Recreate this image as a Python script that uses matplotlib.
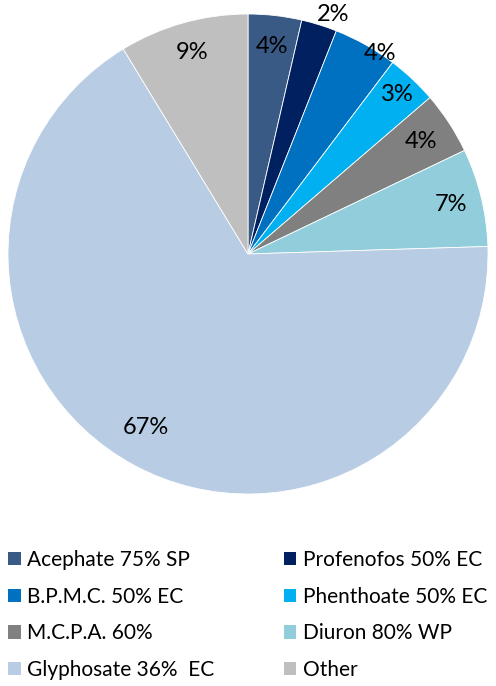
import numpy as np
import matplotlib.pyplot as plt
from matplotlib.patches import Patch

# Dados do gráfico
products = ['Acephate 75% SP', 'Profenofos 50% EC', 'B.P.M.C. 50% EC', 'Phenthoate 50% EC',
            'M.C.P.A. 60%', 'Diuron 80% WP', 'Glyphosate 36%  EC', 'Other']
shares = [3.6, 2.4, 4.3, 3.4, 4.2, 6.6, 66.8, 8.7]
colors = ['#3A5A86', '#002060', '#0070C0', '#00B0F0', '#808080', '#92CDDC', '#B8CCE4', '#BFBFBF']
# distância relativa de cada rótulo ao centro e desvio angular (graus)
label_dist = [0.87, 1.06, 1.0, 0.91, 0.86, 0.87, 0.84, 0.87]
label_shift = [0, -2.2, -4, 0, 0, 0, -2, 0]

plt.rcParams['font.family'] = ['Lato', 'DejaVu Sans']

fig = plt.figure(figsize=(4.96, 6.86), dpi=100)
ax = fig.add_axes([8 / 496, (686 - 494) / 686, 480 / 496, 480 / 686])

wedges, texts, autotexts = ax.pie(shares, colors=colors, startangle=90, counterclock=False,
                                  autopct='%.0f%%', radius=1,
                                  wedgeprops=dict(edgecolor='white', linewidth=0.6),
                                  textprops=dict(fontsize=17, color='black'))

# Reposicionar os rótulos
for w, t, d, s in zip(wedges, autotexts, label_dist, label_shift):
    ang = np.deg2rad((w.theta1 + w.theta2) / 2 + s)
    t.set_position((d * np.cos(ang), d * np.sin(ang)))

ax.set_xlim(-1, 1)
ax.set_ylim(-1, 1)
ax.set_aspect('equal')
ax.axis('off')

# Legenda em duas colunas
order = [0, 2, 4, 6, 1, 3, 5, 7]
handles = [Patch(facecolor=colors[i], label=products[i]) for i in order]
fig.legend(handles=handles, ncol=2, loc='upper left', bbox_to_anchor=(8 / 496, 1 - 550 / 686),
           frameon=False, fontsize=15, handlelength=0.6, handleheight=0.6,
           handletextpad=0.3, columnspacing=3.35, labelspacing=0.8,
           borderpad=0, borderaxespad=0)

fig.savefig('out.png', dpi=100)
